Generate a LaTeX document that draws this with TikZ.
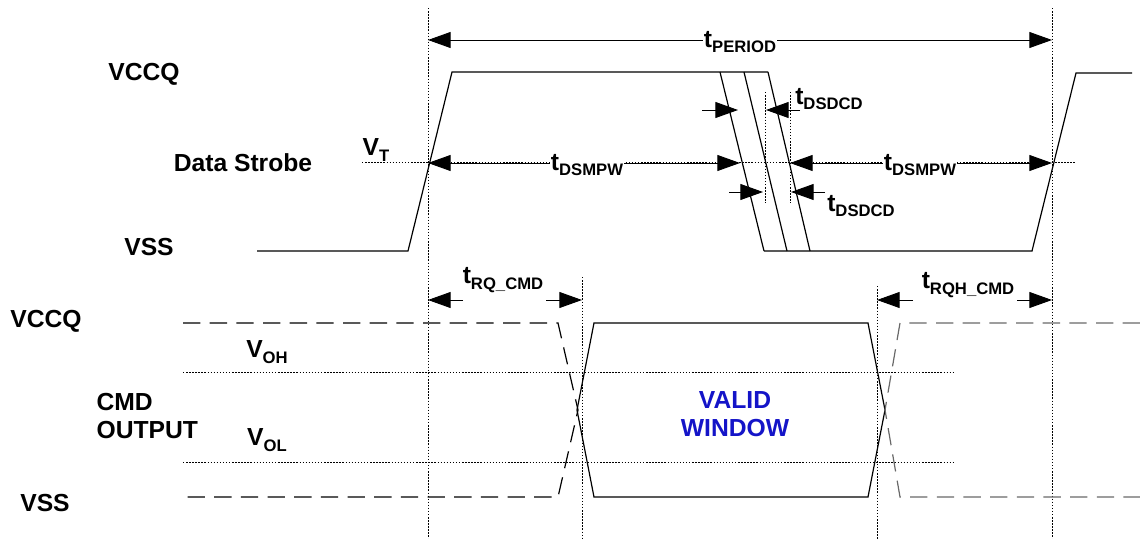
\documentclass[tikz,border=0pt]{standalone}
\usepackage{fontspec}
\setmainfont{Liberation Sans}
\usetikzlibrary{arrows.meta}

\definecolor{validblue}{RGB}{20,20,200}
\definecolor{dashgray}{RGB}{105,105,105}

% Zeitparameter mit tiefgestelltem Index
\newcommand{\tlab}[1]{t\raisebox{-0.4ex}{\fontsize{12.5}{12.5}\selectfont #1}}
\newcommand{\vlab}[1]{V\raisebox{-0.4ex}{\fontsize{12.5}{12.5}\selectfont #1}}

\tikzset{
  lbl/.style={font=\fontsize{18.5}{21}\selectfont\bfseries, inner sep=1pt},
  tmark/.style={lbl, fill=white, inner sep=0.5pt},
  sig/.style={line width=0.9pt},
  hilfs/.style={line width=0.75pt, dash pattern=on 1.1pt off 1.2pt},
  strich/.style={line width=0.9pt, dash pattern=on 13pt off 7pt},
  mass/.style={line width=0.7pt, -{Triangle[length=17pt,width=12pt]}},
  massbeid/.style={line width=0.7pt, {Triangle[length=17pt,width=12pt]}-{Triangle[length=17pt,width=12pt]}},
}

\begin{document}
\begin{tikzpicture}[x=0.75pt, y=-0.75pt]
    \useasboundingbox (0,0) rectangle (1140,539);

    % Hilfslinien
    \draw[hilfs] (428,8) -- (428,539);
    \draw[hilfs] (1052,8) -- (1052,539);
    \draw[hilfs] (765,92) -- (765,203);
    \draw[hilfs] (790,92) -- (790,203);
    \draw[hilfs] (582,277) -- (582,539);
    \draw[hilfs] (877,286) -- (877,539);
    \draw[hilfs] (362,162) -- (1076,162);
    \draw[hilfs] (183,372) -- (955,372);
    \draw[hilfs] (183,462) -- (955,462);

    % Data Strobe
    \draw[sig] (257,251) -- (408,251) -- (452,72) -- (768,72);
    \draw[sig] (720,72) -- (764,251);
    \draw[sig] (744,72) -- (787,251);
    \draw[sig] (768,72) -- (810,251);
    \draw[sig] (764,251) -- (1032,251) -- (1076,73) -- (1132,73);

    % CMD Ausgang
    \draw[strich] (183,323) -- (558,323) -- (578,410) -- (558,497) -- (183,497);
    \draw[sig] (594,323) -- (868,323) -- (885,410) -- (868,497) -- (594,497) -- (577,410) -- cycle;
    \draw[strich, dashgray] (1140,323) -- (900,323) -- (885,410) -- (900,497) -- (1140,497);

    % Messpunkte
    \coordinate (perL) at (428,40);
    \coordinate (perR) at (1052,40);
    \coordinate (mpwL1) at (428,163);
    \coordinate (mpwL2) at (740,163);
    \coordinate (mpwR1) at (790,163);
    \coordinate (mpwR2) at (1052,163);
    \coordinate (dcdA) at (702,110);
    \coordinate (dcdA1) at (738,110);
    \coordinate (dcdB) at (800,110);
    \coordinate (dcdB1) at (766,110);
    \coordinate (dcdC) at (729,192);
    \coordinate (dcdC1) at (763,192);
    \coordinate (dcdD) at (825,192);
    \coordinate (dcdD1) at (791,192);
    \coordinate (rqA) at (463,300);
    \coordinate (rqA1) at (428,300);
    \coordinate (rqB) at (546,300);
    \coordinate (rqB1) at (582,300);
    \coordinate (rqhA) at (913,300);
    \coordinate (rqhA1) at (877,300);
    \coordinate (rqhB) at (1017,300);
    \coordinate (rqhB1) at (1052,300);

    % Pfeile
    \draw[massbeid] (perL) -- (perR);
    \draw[massbeid] (mpwL1) -- (mpwL2);
    \draw[massbeid] (mpwR1) -- (mpwR2);
    \draw[mass] (dcdA) -- (dcdA1);
    \draw[mass] (dcdB) -- (dcdB1);
    \draw[mass] (dcdC) -- (dcdC1);
    \draw[mass] (dcdD) -- (dcdD1);
    \draw[mass] (rqA) -- (rqA1);
    \draw[mass] (rqB) -- (rqB1);
    \draw[mass] (rqhA) -- (rqhA1);
    \draw[mass] (rqhB) -- (rqhB1);

    % Beschriftung
    \node[tmark] (per) at (740,42) {\tlab{PERIOD}};
    \node[tmark] (mpwl) at (587,165) {\tlab{DSMPW}};
    \node[tmark] (mpwr) at (920,165) {\tlab{DSMPW}};
    \node[lbl] (dcdo) at (829,99) {\tlab{DSDCD}};
    \node[lbl] (dcdu) at (861,206) {\tlab{DSDCD}};
    \node[lbl] (rq) at (503,280) {\tlab{RQ\_CMD}};
    \node[lbl] (rqh) at (968,285) {\tlab{RQH\_CMD}};
    \node[lbl] (vt) at (376,150) {\vlab{T}};
    \node[lbl] (voh) at (267,352) {\vlab{OH}};
    \node[lbl] (vol) at (267,440) {\vlab{OL}};

    \node[lbl] (vccqo) at (144,74) {VCCQ};
    \node[lbl] (ds) at (243,163) {Data Strobe};
    \node[lbl] (vsso) at (149,247) {VSS};
    \node[lbl] (vccqu) at (46,321) {VCCQ};
    \node[lbl] (vssu) at (45,503) {VSS};
    \node[lbl, anchor=west, align=left] (cmd) at (95,416) {CMD\\OUTPUT};
    \node[lbl, text=validblue, align=center] (valid) at (735,414) {VALID\\WINDOW};
\end{tikzpicture}
\end{document}
